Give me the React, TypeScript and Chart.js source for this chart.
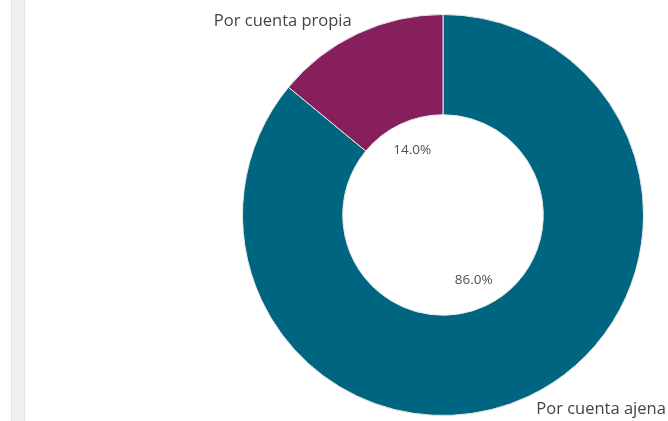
import React, { useEffect, useRef } from "react";
import { Chart, registerables } from "chart.js";

Chart.register(...registerables);

const categories = ["Por cuenta ajena", "Por cuenta propia"];
const values = [86.0, 14.0];
const colors = ["#006580", "#871f5c"];

const labelPlugin = {
  id: "sliceLabels",
  afterDatasetsDraw(chart: any) {
    const ctx = chart.ctx;
    const meta = chart.getDatasetMeta(0);
    const total = values.reduce((a, b) => a + b, 0);
    meta.data.forEach((arc: any, i: number) => {
      const p = arc.getProps(["x", "y", "startAngle", "endAngle", "innerRadius", "outerRadius"], true);
      const mid = (p.startAngle + p.endAngle) / 2;
      const cos = Math.cos(mid);
      const sin = Math.sin(mid);
      ctx.save();
      ctx.textBaseline = "middle";
      // percentage inside the hole
      ctx.fillStyle = "#505050";
      ctx.font = "13.5px 'Open Sans', sans-serif";
      ctx.textAlign = "center";
      const rIn = p.innerRadius * 0.72;
      ctx.fillText(((values[i] / total) * 100).toFixed(1) + "%", p.x + cos * rIn, p.y + sin * rIn);
      // category outside
      ctx.fillStyle = "#444";
      ctx.font = "16.5px 'Open Sans', sans-serif";
      const rOut = p.outerRadius + 14;
      ctx.textAlign = cos < 0 ? "right" : "left";
      ctx.fillText(categories[i], p.x + cos * rOut + (cos < 0 ? 0 : 2), p.y + sin * rOut);
      ctx.restore();
    });
  },
};

export default function App() {
  const ref = useRef<HTMLCanvasElement>(null);
  useEffect(() => {
    if (!ref.current) return;
    const chart = new Chart(ref.current, {
      type: "doughnut",
      data: {
        labels: categories,
        datasets: [
          {
            data: values,
            backgroundColor: colors,
            borderColor: "#e8e8e8",
            borderWidth: 1,
          },
        ],
      },
      options: {
        animation: false,
        responsive: false,
        maintainAspectRatio: false,
        cutout: "50%",
        layout: { padding: { left: 242, right: 24, top: 14, bottom: 5 } },
        plugins: {
          legend: { display: false },
          tooltip: { enabled: false },
        },
      },
      plugins: [labelPlugin],
    });
    return () => chart.destroy();
  }, []);
  return (
    <div style={{ position: "fixed", left: 0, top: 0, width: 668, height: 421, background: "#fff", overflow: "hidden" }}>
      <div
        style={{
          position: "absolute",
          left: 11,
          top: 0,
          width: 12,
          height: 421,
          background: "#f0f0f0",
          borderLeft: "1px solid #e0e0e0",
          borderRight: "1px solid #e4e4e4",
        }}
      />
      <canvas ref={ref} width={668} height={421} style={{ position: "absolute", left: 0, top: 0 }} />
    </div>
  );
}
